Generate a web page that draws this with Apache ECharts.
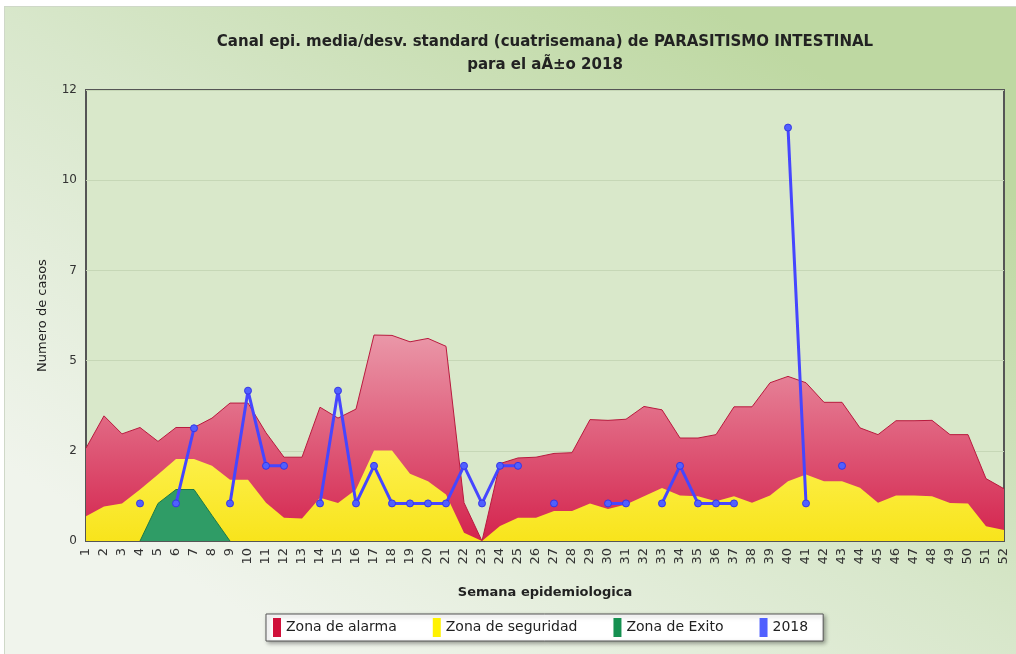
<!DOCTYPE html>
<html>
<head>
<meta charset="utf-8">
<script src="https://cdn.jsdelivr.net/npm/echarts@6/dist/echarts.min.js"></script>
<style>
html,body{margin:0;padding:0;background:#ffffff;}
#chart{position:absolute;left:4px;top:6px;width:1012px;height:648px;border-top:1px solid #cfd8c8;border-left:1px solid #cfd8c8;box-sizing:border-box;}
</style>
</head>
<body>
<div id="chart"></div>
<script>
const weeks = ['1','2','3','4','5','6','7','8','9','10','11','12','13','14','15','16','17','18','19','20','21','22','23','24','25','26','27','28','29','30','31','32','33','34','35','36','37','38','39','40','41','42','43','44','45','46','47','48','49','50','51','52'];

const zonaAlarma = [2.47,3.33,2.85,3.02,2.65,3.02,3.02,3.27,3.67,3.67,2.88,2.23,2.23,3.56,3.27,3.51,5.48,5.47,5.30,5.39,5.18,1.02,0,2.06,2.21,2.23,2.33,2.35,3.23,3.21,3.24,3.58,3.49,2.74,2.74,2.83,3.57,3.57,4.21,4.38,4.21,3.69,3.69,3.01,2.83,3.20,3.20,3.21,2.83,2.83,1.66,1.39];

const zonaSeguridad = [0.66,0.92,1.00,1.37,1.77,2.18,2.18,2.00,1.63,1.63,1.02,0.62,0.60,1.15,1.01,1.37,2.41,2.41,1.79,1.59,1.24,0.22,0,0.40,0.62,0.62,0.80,0.80,1.00,0.85,0.97,1.19,1.41,1.21,1.19,1.06,1.19,1.02,1.21,1.59,1.77,1.59,1.59,1.42,1.02,1.21,1.21,1.19,1.01,1.00,0.39,0.29];

const zonaExito = [null,null,null,0,1.00,1.37,1.37,0.68,0,null,null,null,null,null,null,null,null,null,null,null,null,null,null,null,null,null,null,null,null,null,null,null,null,null,null,null,null,null,null,null,null,null,null,null,null,null,null,null,null,null,null,null];

const casos2018 = [null,null,null,1,null,1,3,null,1,4,2,2,null,1,4,1,2,1,1,1,1,2,1,2,2,null,1,null,null,1,1,null,1,2,1,1,1,null,null,11,1,null,2,null,null,null,null,null,null,null,null,null];

const yTicks = [0,2.4,4.8,7.2,9.6,12];

const FONT = 'DejaVu Sans';
const chart = echarts.init(document.getElementById('chart'));
chart.setOption({
  animation:false,
  backgroundColor:{type:'linear',x:0.7,y:0,x2:0.3,y2:1,colorStops:[{offset:0,color:'#bed8a2'},{offset:0.5,color:'#d8e7cb'},{offset:1,color:'#f0f4ec'}]},
  title:{
    text:'Canal epi. media/desv. standard (cuatrisemana) de PARASITISMO INTESTINAL\npara el aÃ±o 2018',
    left:535, top:19, textAlign:'center',
    textStyle:{fontFamily:FONT,fontSize:15,fontWeight:'bold',color:'#222',lineHeight:23}
  },
  grid:{left:81,right:12,top:83,bottom:113,show:true,backgroundColor:'#d9e8ca',borderColor:'#555',borderWidth:2},
  legend:{
    left:261, top:607,
    data:['Zona de alarma','Zona de seguridad','Zona de Exito','2018'],
    icon:'rect', itemWidth:8, itemHeight:19, itemGap:36,
    itemStyle:{borderWidth:0},
    backgroundColor:'#ffffff', borderColor:'#555', borderWidth:1,
    padding:[4,15,4,7],
    shadowColor:'rgba(0,0,0,0.35)', shadowBlur:4, shadowOffsetX:2, shadowOffsetY:2,
    textStyle:{fontFamily:FONT,fontSize:14,color:'#222'}
  },
  xAxis:{
    type:'category', data:weeks, boundaryGap:false,
    name:'Semana epidemiologica', nameLocation:'middle', nameGap:45,
    nameTextStyle:{fontFamily:FONT,fontSize:13,fontWeight:'bold',color:'#222'},
    axisLine:{show:true,lineStyle:{color:'#555',width:2}},
    axisTick:{show:false},
    axisLabel:{rotate:90,interval:0,margin:7,fontFamily:FONT,fontSize:13,color:'#333'},
    splitLine:{show:false}
  },
  yAxis:{
    type:'value', min:yTicks[0], max:yTicks[yTicks.length-1], interval:yTicks[1],
    name:'Numero de casos', nameLocation:'middle', nameGap:37, nameRotate:90,
    nameTextStyle:{fontFamily:FONT,fontSize:13,color:'#222'},
    axisLine:{show:false}, axisTick:{show:false},
    axisLabel:{margin:9,fontFamily:FONT,fontSize:12,color:'#333',formatter:v=>String(Math.round(v))},
    splitLine:{show:true,lineStyle:{color:'#c6d7b6',width:1}}
  },
  series:[
    {
      name:'Zona de alarma', type:'line', data:zonaAlarma, symbol:'none', z:2,
      itemStyle:{color:'#d0103a'},
      lineStyle:{color:'#b81a3e',width:1},
      areaStyle:{opacity:1,color:{type:'linear',x:0,y:0,x2:0,y2:1,colorStops:[{offset:0,color:'#ea97a8'},{offset:1,color:'#d4234d'}]}}
    },
    {
      name:'Zona de seguridad', type:'line', data:zonaSeguridad, symbol:'none', z:3,
      itemStyle:{color:'#fff200'},
      lineStyle:{width:0},
      areaStyle:{opacity:1,color:{type:'linear',x:0,y:0,x2:0,y2:1,colorStops:[{offset:0,color:'#fdf04c'},{offset:1,color:'#f8e41c'}]}}
    },
    {
      name:'Zona de Exito', type:'line', data:zonaExito, symbol:'none', z:4,
      itemStyle:{color:'#159050'},
      lineStyle:{color:'#1c7a48',width:1},
      areaStyle:{opacity:1,color:'#2f9c66'}
    },
    {
      name:'2018', type:'line', data:casos2018, z:5,
      symbol:'circle', symbolSize:7, showSymbol:true, connectNulls:false,
      itemStyle:{color:'#5060ff',borderColor:'#3636e6',borderWidth:1},
      lineStyle:{color:'#4646ff',width:3}
    }
  ]
});
</script>
</body>
</html>
